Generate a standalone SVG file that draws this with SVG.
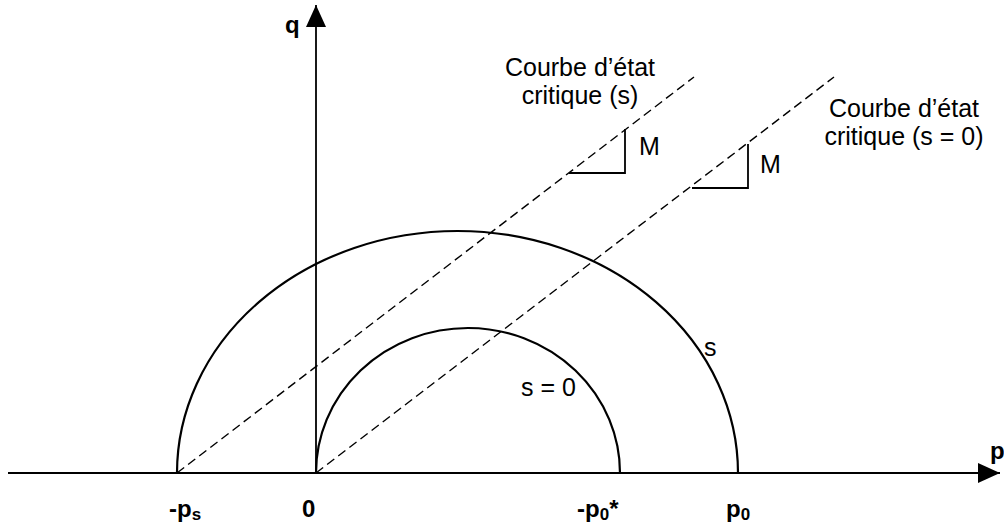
<svg xmlns="http://www.w3.org/2000/svg" width="1004" height="526" viewBox="0 0 1004 526">
<style>
.ax{stroke:#000;stroke-width:1.8;fill:none}
.arc{stroke:#000;stroke-width:2.2;fill:none}
.dash{stroke:#000;stroke-width:1.4;fill:none;stroke-dasharray:9 5}
.tri{stroke:#000;stroke-width:1.8;fill:none}
.t{font-family:"Liberation Sans",Arial,sans-serif;font-size:25px;fill:#000}
.b{font-family:"Liberation Sans",Arial,sans-serif;font-size:24px;font-weight:bold;fill:#000}
.sub{font-size:17px}
</style>
<defs>
<marker id="ah" viewBox="0 0 22 20" refX="22" refY="10" markerWidth="22" markerHeight="20" markerUnits="userSpaceOnUse" orient="auto">
<path d="M0,0 L22,10 L0,20 Z" fill="#000"/>
</marker>
</defs>
<g id="axes">
<line class="ax" x1="8" y1="473" x2="1000" y2="473" marker-end="url(#ah)"/>
<line class="ax" x1="316" y1="473" x2="316" y2="5" marker-end="url(#ah)"/>
<text class="b" x="285" y="33">q</text>
<text class="b" x="990" y="459">p</text>
</g>
<g id="curve-s">
<path class="arc" d="M177,473 A280.5,242 0 0 1 738,473"/>
<text class="t" x="704" y="356">s</text>
</g>
<g id="curve-s0">
<path class="arc" d="M316,473 A152,145 0 0 1 620,473"/>
<text class="t" x="521" y="396">s = 0</text>
</g>
<g id="connectors">
<line class="dash" x1="177" y1="473" x2="694" y2="77"/>
<line class="dash" x1="316" y1="473" x2="834" y2="77"/>
</g>
<g id="slope-1">
<polyline class="tri" points="569,173 625,173 625,129"/>
<text class="t" x="639" y="155">M</text>
</g>
<g id="slope-2">
<polyline class="tri" points="692,188 748,188 748,144"/>
<text class="t" x="760" y="173">M</text>
</g>
<g id="label-csl-s">
<text class="t" x="580" y="76" text-anchor="middle">Courbe d’état</text>
<text class="t" x="580" y="104" text-anchor="middle">critique (s)</text>
</g>
<g id="label-csl-s0">
<text class="t" x="904" y="117" text-anchor="middle">Courbe d’état</text>
<text class="t" x="904" y="145" text-anchor="middle">critique (s = 0)</text>
</g>
<g id="ticks">
<text class="b" x="169" y="517">-p<tspan class="sub" dy="3">s</tspan></text>
<text class="b" x="302" y="517">0</text>
<text class="b" x="577" y="517">-p<tspan class="sub" dy="3">0</tspan><tspan dy="-3">*</tspan></text>
<text class="b" x="726" y="517">p<tspan class="sub" dy="3">0</tspan></text>
</g>
</svg>
